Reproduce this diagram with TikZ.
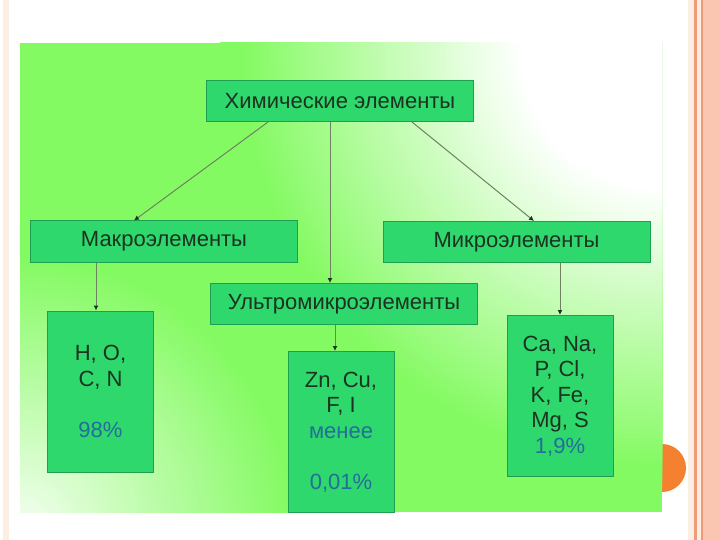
\documentclass[tikz,border=0pt]{standalone}
\usepackage{fontspec}
\setmainfont{Liberation Sans}
\usetikzlibrary{positioning, arrows.meta}

\definecolor{bggreen}{HTML}{84FA62}
\definecolor{boxfill}{HTML}{2ED86C}
\definecolor{boxedge}{HTML}{1F9F52}
\definecolor{ink}{HTML}{1B3320}
\definecolor{pct}{HTML}{236E9A}
\definecolor{linkgray}{HTML}{6E8262}
\definecolor{framepale}{HTML}{FDEEE4}
\definecolor{frameline}{HTML}{F09A78}
\definecolor{framefill}{HTML}{FBC6B1}
\definecolor{dot}{HTML}{F5802F}

\begin{document}
\begin{tikzpicture}[
      x=1pt, y=-1pt,
      elbox/.style={draw=boxedge, fill=boxfill, line width=1pt, text=ink, align=center,
        inner sep=0pt, font=\fontsize{22}{25.5}\selectfont},
      headbox/.style={elbox, minimum width=267pt, minimum height=41pt},
      listbox/.style={elbox, minimum width=106pt, minimum height=161pt},
      link/.style={draw=linkgray, line width=1pt, -{Latex[length=5pt, width=5pt, color=ink]}}
    ]
    \useasboundingbox (0,0) rectangle (720,540);

    % slide frame
    \fill[framepale] (3,0) rectangle (9,540);
    \fill[framepale] (688,0) rectangle (720,540);
    \fill[frameline] (694,0) rectangle (696.5,540);
    \fill[frameline] (701,0) rectangle (703,540);
    \fill[framefill] (703,0) rectangle (720,540);
    \fill[dot] (662,468) circle (24);

    % picture background
    \begin{scope}
      \clip (20,43) rectangle (662,512);
      \fill[bggreen] (20,43) rectangle (662,512);
      \foreach \r [evaluate=\r as \p using {min(100,(\r-140)/2.8)}] in {440,435,...,140}
        \fill[bggreen!\p!white] (660,50) circle (\r);
      \foreach \r [evaluate=\r as \p using {min(100,15+(\r-20)/3)}] in {280,275,...,20}
        \fill[bggreen!\p!white] (20,530) circle (\r);
    \end{scope}

    \node[headbox] (chem) at (340,101) {Химические элементы};
    \node[headbox] (macro) at (164,241.5) {Макроэлементы};
    \node[headbox] (micro) at (516.5,242) {Микроэлементы};
    \node[headbox] (ultra) at (344,304) {Ультромикроэлементы};

    \node[listbox, below=48pt of macro, xshift=-63.5pt] (hocn)
      {H, O,\\C, N\\\mbox{}\\{\color{pct}98\%}};
    \node[listbox, below=26pt of ultra, xshift=-3pt] (zncu)
      {Zn, Cu,\\F, I\\{\color{pct}менее}\\\mbox{}\\{\color{pct}0,01\%}};
    \node[listbox, below=52pt of micro, xshift=43.5pt] (cana)
      {Ca, Na,\\P, Cl,\\K, Fe,\\Mg, S\\{\color{pct}1,9\%}};

    \draw[link] ([xshift=-72pt]chem.south) -- ([xshift=-30pt]macro.north);
    \draw[link] ([xshift=-10pt]chem.south) -- ([xshift=-14pt]ultra.north);
    \draw[link] ([xshift=72pt]chem.south) -- ([xshift=17.5pt]micro.north);
    \draw[link] ([xshift=-68pt]macro.south) -- ([xshift=-4.5pt]hocn.north);
    \draw[link] ([xshift=-9pt]ultra.south) -- ([xshift=-6pt]zncu.north);
    \draw[link] (micro.south -| cana.north) -- (cana.north);
  \end{tikzpicture}
\end{document}
